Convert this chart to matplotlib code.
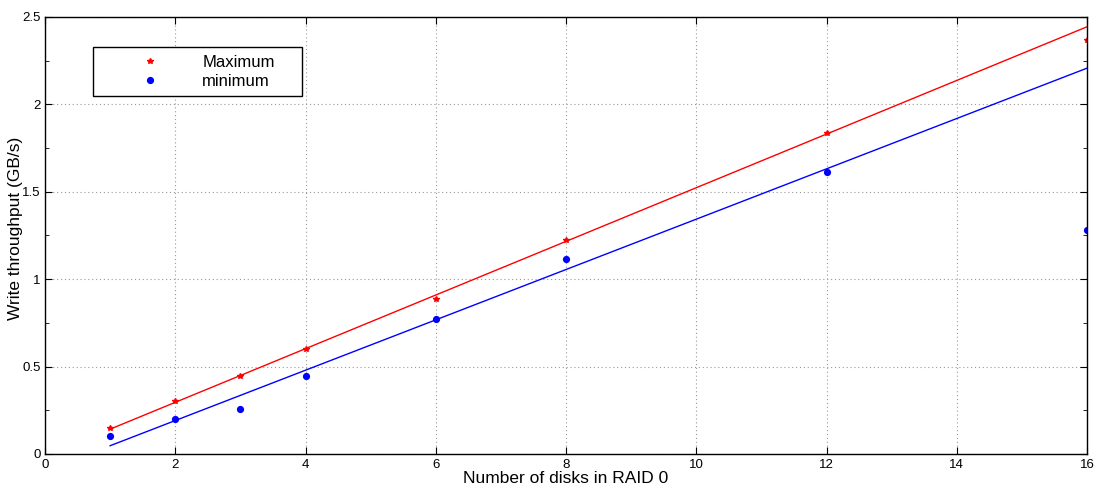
import numpy as np
import matplotlib
matplotlib.use("Agg")
import matplotlib.pyplot as plt
from matplotlib.ticker import MultipleLocator

plt.rcParams['font.family'] = ['Liberation Sans', 'DejaVu Sans']

disks = [1, 2, 3, 4, 6, 8, 12, 16]
maximum = [0.149, 0.303, 0.446, 0.600, 0.887, 1.224, 1.836, 2.368]
minimum = [0.103, 0.200, 0.257, 0.446, 0.772, 1.116, 1.613, 1.280]

# linear fits use only the first 7 points (16 disks left out)
nfit = 7
fit_max = np.poly1d(np.polyfit(disks[:nfit], maximum[:nfit], 1))
fit_min = np.poly1d(np.polyfit(disks[:nfit], minimum[:nfit], 1))
xx = np.array([disks[0], disks[-1]])

fig = plt.figure(figsize=(11.01, 4.91), dpi=100)
ax = fig.add_axes([0.0409, 0.0754, 0.9464, 0.89])

ax.plot(disks, maximum, '*', color='#ff0000', markersize=4, label='Maximum')
ax.plot(disks, minimum, 'o', color='#0000ff', markersize=5.2, markeredgewidth=0, label='minimum')
ax.plot(xx, fit_max(xx), '-', color='#ff0000', linewidth=1)
ax.plot(xx, fit_min(xx), '-', color='#0000ff', linewidth=1)

ax.set_xlim(0, 16)
ax.set_ylim(0, 2.5)
ax.xaxis.set_major_locator(MultipleLocator(2))
ax.set_yticks([0, 0.5, 1, 1.5, 2, 2.5])
ax.set_yticklabels(['0', '0.5', '1', '1.5', '2', '2.5'])
ax.yaxis.set_minor_locator(MultipleLocator(0.25))
ax.tick_params(which='both', direction='in', top=True, right=True, labelsize=9.5)
ax.tick_params(axis='y', pad=3)
ax.tick_params(which='major', length=5)
ax.tick_params(which='minor', length=3)
ax.grid(True, which='major', linestyle=(0, (1, 2.5)), color='#999999', linewidth=0.8)
for s in ax.spines.values():
    s.set_linewidth(1)

ax.set_xlabel('Number of disks in RAID 0', fontsize=12.5, labelpad=0)
ax.set_ylabel('Write throughput (GB/s)', fontsize=12.5)
ax.yaxis.set_label_coords(-0.0215, 0.517)

leg = ax.legend(loc='upper left', bbox_to_anchor=(0.046, 0.8192, 0.2004, 0.112),
                mode='expand', fancybox=False, edgecolor='black', framealpha=1,
                fontsize=12, handlelength=6, handletextpad=0.1,
                borderpad=0.45, labelspacing=0.25, borderaxespad=0)
leg.get_frame().set_linewidth(1)

fig.savefig('out.png', dpi=100)
